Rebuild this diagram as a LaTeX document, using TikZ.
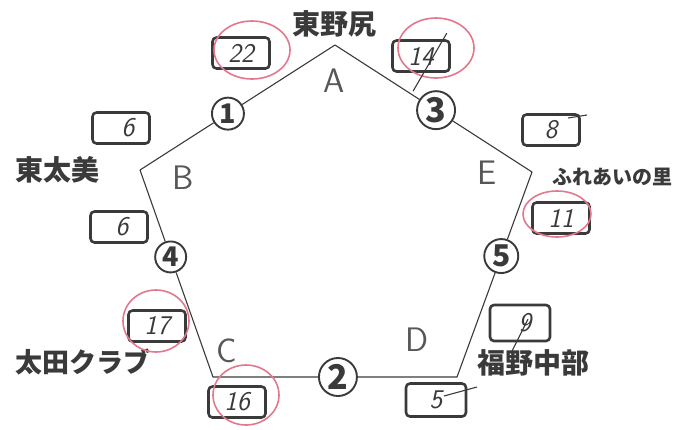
\documentclass[tikz,border=0pt]{standalone}
\usepackage{fontspec}
\newfontfamily\jpfont{Noto Sans CJK JP}
\usetikzlibrary{positioning, shapes.geometric}
\definecolor{ink}{HTML}{3A3A3A}
\definecolor{redpen}{HTML}{E3788C}

\begin{document}
\begin{tikzpicture}[x=1pt, y=-1pt, line join=round,
		side/.style={draw=ink, line width=1.1pt},
		marker/.style={draw=ink, circle, line width=1.9pt, fill=white, inner sep=0pt, text=ink, font=\jpfont\bfseries\fontsize{27}{27}\selectfont},
		tally/.style={draw=ink, rounded corners=4pt, line width=2.6pt, minimum width=57pt, minimum height=31pt, inner sep=0pt, text=ink, font=\sffamily\itshape\fontsize{27}{27}\selectfont},
		corner/.style={text=ink!85, font=\sffamily\fontsize{34}{34}\selectfont},
		place/.style={text=ink, font=\jpfont\bfseries\fontsize{28}{28}\selectfont},
		loop/.style={draw=redpen, line width=1.6pt},
		stroke/.style={draw=ink, line width=1.1pt}]
	\useasboundingbox (0,0) rectangle (685,429);
	
	% pentagon corners
	\coordinate (vA) at (335,45);
	\coordinate (vB) at (140,170);
	\coordinate (vC) at (213,377);
	\coordinate (vD) at (457,377);
	\coordinate (vE) at (532,172);
	
	% circled numbers on the sides
	\path (vA) -- (vB) node[marker, minimum size=32pt, pos=0.549] (m1) {1};
	\path (vC) -- (vD) node[marker, minimum size=38pt, pos=0.512, font=\jpfont\bfseries\fontsize{34}{34}\selectfont] (m2) {2};
	\path (vA) -- (vE) node[marker, minimum size=38pt, pos=0.513, font=\jpfont\bfseries\fontsize{34}{34}\selectfont] (m3) {3};
	\path (vB) -- (vC) node[marker, minimum size=31pt, pos=0.42] (m4) {4};
	\path (vE) -- (vD) node[marker, minimum size=34pt, pos=0.41, font=\jpfont\bfseries\fontsize{30}{30}\selectfont] (m5) {5};
	
	\draw[side] (vA) -- (m1) -- (vB) -- (m4) -- (vC) -- (m2) -- (vD) -- (m5) -- (vE) -- (m3) -- (vA);
	
	% corner letters
	\node[corner] (cA) at (334,81) {A};
	\node[corner] (cB) at (183,178) {B};
	\node[corner] (cC) at (227,351) {C};
	\node[corner] (cD) at (417,340) {D};
	\node[corner] (cE) at (487,173) {E};
	
	% place names
	\node[place] (pA) at (334,24) {東野尻};
	\node[place] (pB) at (57,170) {東太美};
	\node[place, font=\jpfont\bfseries\fontsize{20}{20}\selectfont] (pE) at (612,177) {ふれあいの里};
	\node[place, font=\jpfont\bfseries\fontsize{27}{27}\selectfont] (pC) at (83,362) {太田クラブ};
	\node[place] (pD) at (533,363) {福野中部};
	
	% tally boxes
	\node[tally] (t22) at (241,53) {22};
	\node[tally] (t14) at (421,56) {14};
	\node[tally] (t6a) at (121,128) {\hspace*{14pt}6};
	\node[tally] (t6b) at (119,227) {\hspace*{6pt}6};
	\node[tally] (t8) at (551,130) {8};
	\node[tally] (t11) at (561,218) {11};
	\node[tally] (t17) at (157,326) {17};
	\node[tally] (t16) at (237,402) {16};
	\node[tally, minimum width=60pt, minimum height=36pt] (t9) at (520,323) {\hspace*{10pt}9};
	\node[tally, minimum width=60pt, minimum height=33pt] (t5) at (436,400) {5};
	
	% red circles
	\draw[loop] ([shift={(11,-3)}]t22.center) ellipse [x radius=38, y radius=29];
	\draw[loop] ([shift={(15,-8)}]t14.center) ellipse [x radius=38, y radius=30];
	\draw[loop] ([shift={(-4,-4)}]t11.center) ellipse [x radius=34, y radius=23];
	\draw[loop] ([shift={(-1,-5)}]t17.center) ellipse [x radius=33, y radius=31];
	\draw[loop] ([shift={(9,-7)}]t16.center) ellipse [x radius=33, y radius=30];
	
	% pencil strokes
	\draw[stroke] ([shift={(-4,-6)}]t14.north east) -- ([shift={(-23,-19)}]m3.center);
	\draw[stroke] ([shift={(17,-12)}]t8.center) -- ([shift={(36,-15)}]t8.center);
	\draw[stroke] ([shift={(8,-4)}]t9.center) -- ([shift={(-8,28)}]t9.center);
	\draw[stroke] ([shift={(41,-13)}]t5.center) -- ([shift={(8,-4)}]t5.center);
\end{tikzpicture}
\end{document}
